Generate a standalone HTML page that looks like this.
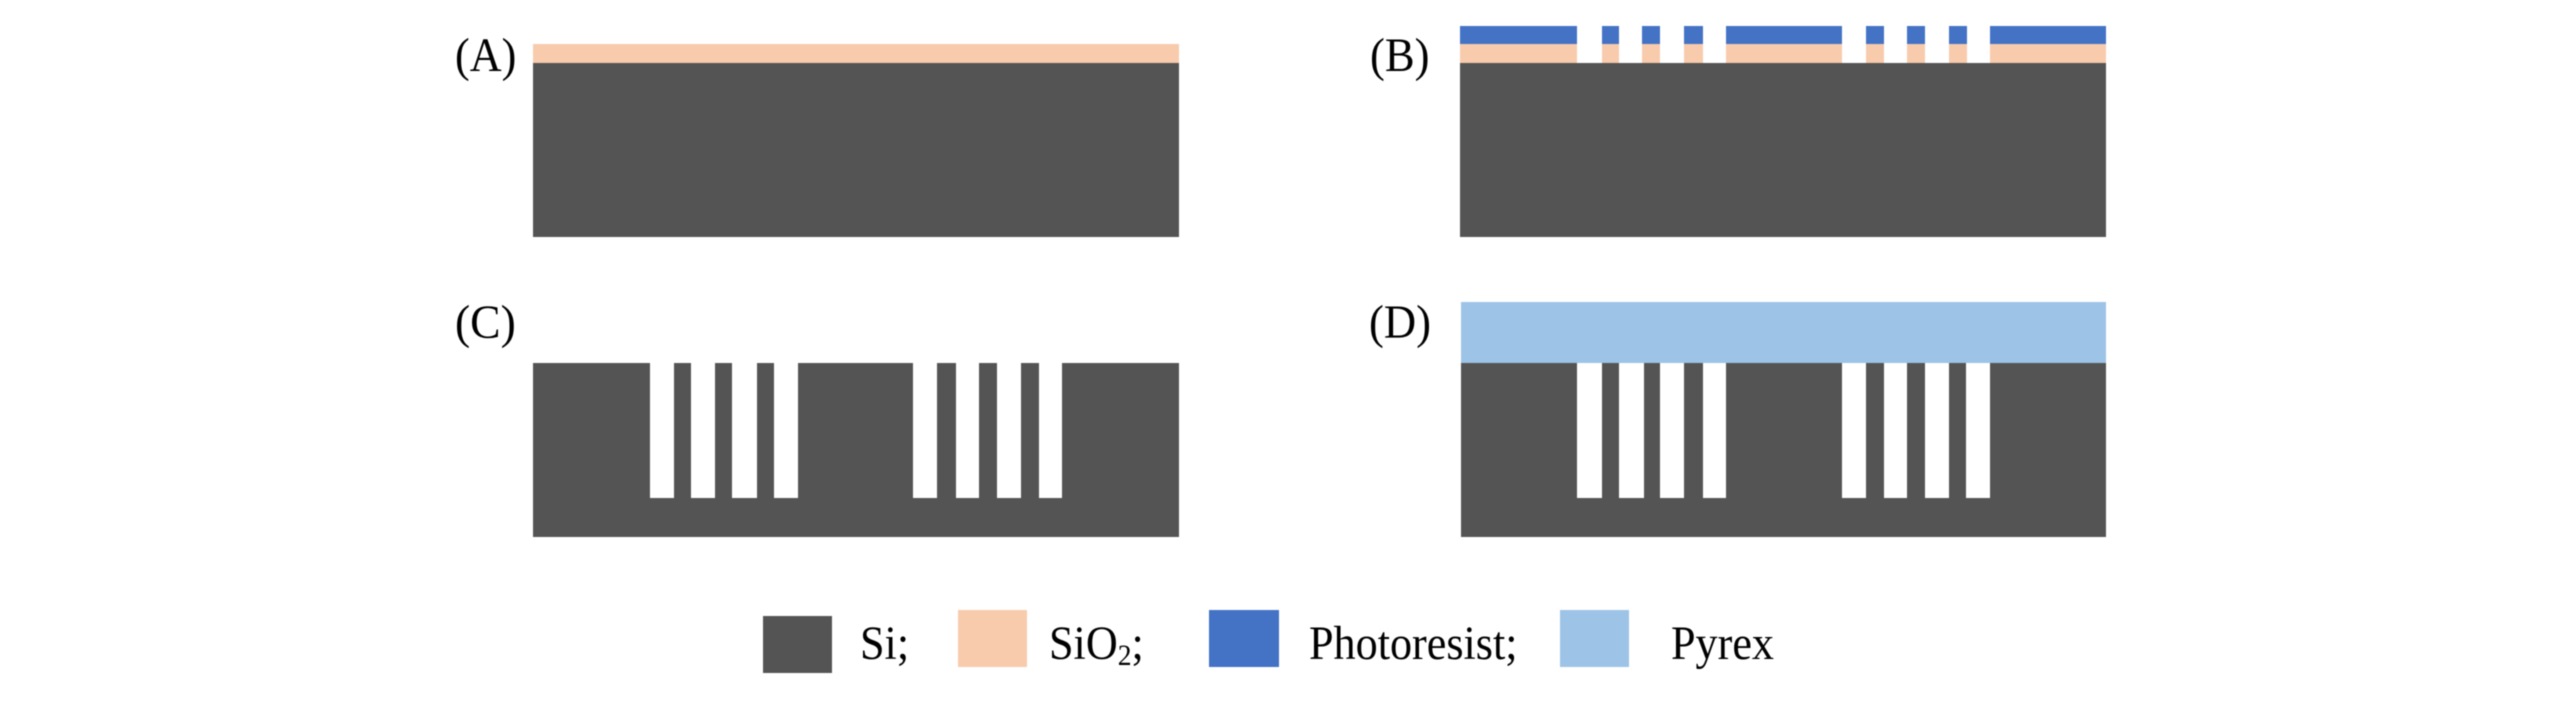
<!DOCTYPE html>
<html>
<head>
<meta charset="utf-8">
<style>
html,body{margin:0;padding:0;background:#fff;width:2567px;height:709px;overflow:hidden}
svg{display:block;filter:blur(0.4px)}
text{font-family:"Liberation Serif",serif;font-size:48px;fill:#000}
</style>
</head>
<body>
<svg width="2567" height="709" viewBox="0 0 2567 709" xmlns="http://www.w3.org/2000/svg">
<!-- A -->
<rect x="533" y="44" width="646" height="19" fill="#F8CBAD"/>
<rect x="533" y="63" width="646" height="174" fill="#545454"/>
<text transform="translate(455,71) scale(.92,1)">(A)</text>
<!-- B -->
<rect x="1460" y="26" width="646" height="18" fill="#4472C4"/>
<rect x="1460" y="44" width="646" height="19" fill="#F8CBAD"/>
<rect x="1460" y="63" width="646" height="174" fill="#545454"/>
<g fill="#fff">
<rect x="1577" y="26" width="25" height="37"/>
<rect x="1619" y="26" width="23" height="37"/>
<rect x="1660" y="26" width="24" height="37"/>
<rect x="1703" y="26" width="23" height="37"/>
<rect x="1842" y="26" width="24" height="37"/>
<rect x="1884" y="26" width="23" height="37"/>
<rect x="1925" y="26" width="24" height="37"/>
<rect x="1967" y="26" width="23" height="37"/>
</g>
<text transform="translate(1370,71) scale(.93,1)">(B)</text>
<!-- C -->
<rect x="533" y="363" width="646" height="174" fill="#545454"/>
<g fill="#fff">
<rect x="650" y="363" width="24" height="135"/>
<rect x="691" y="363" width="24" height="135"/>
<rect x="732" y="363" width="25" height="135"/>
<rect x="774" y="363" width="24" height="135"/>
<rect x="913" y="363" width="24" height="135"/>
<rect x="956" y="363" width="23" height="135"/>
<rect x="997" y="363" width="24" height="135"/>
<rect x="1039" y="363" width="23" height="135"/>
</g>
<text transform="translate(455,338) scale(.95,1)">(C)</text>
<!-- D -->
<rect x="1461" y="302" width="645" height="61" fill="#9DC3E6"/>
<rect x="1461" y="363" width="645" height="174" fill="#545454"/>
<g fill="#fff">
<rect x="1577" y="363" width="25" height="135"/>
<rect x="1619" y="363" width="25" height="135"/>
<rect x="1660" y="363" width="24" height="135"/>
<rect x="1703" y="363" width="23" height="135"/>
<rect x="1842" y="363" width="24" height="135"/>
<rect x="1884" y="363" width="23" height="135"/>
<rect x="1925" y="363" width="24" height="135"/>
<rect x="1966" y="363" width="24" height="135"/>
</g>
<text transform="translate(1369,338) scale(.93,1)">(D)</text>
<!-- Legend -->
<rect x="763" y="616" width="69" height="57" fill="#545454"/>
<text transform="translate(860,659) scale(.92,1)">Si;</text>
<rect x="958" y="610" width="69" height="57" fill="#F8CBAD"/>
<text transform="translate(1049,659) scale(.92,1)">SiO<tspan font-size="30" dy="6">2</tspan><tspan dy="-6">;</tspan></text>
<rect x="1209" y="610" width="70" height="57" fill="#4472C4"/>
<text transform="translate(1309,659) scale(.92,1)">Photoresist;</text>
<rect x="1560" y="610" width="69" height="57" fill="#9DC3E6"/>
<text transform="translate(1671,659) scale(.92,1)">Pyrex</text>
</svg>
</body>
</html>
